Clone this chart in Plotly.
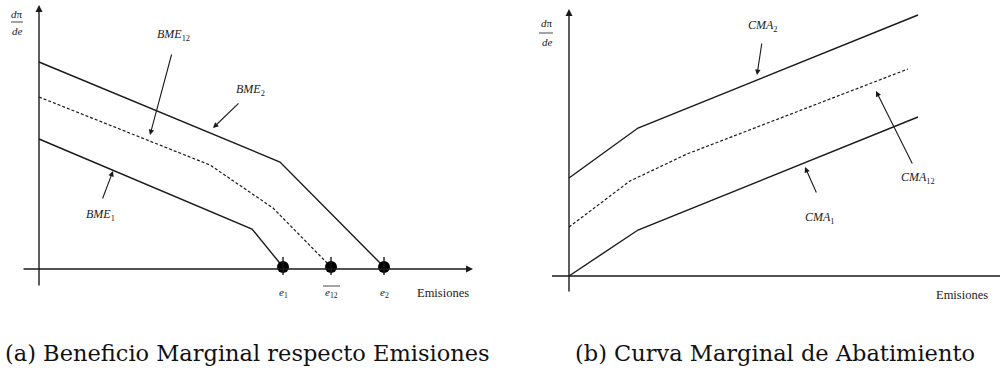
import plotly.graph_objects as go

# ---------------- data (abstract units) ----------------
# Left panel: Beneficio Marginal respecto Emisiones
bme2_x = [0, 24.1, 34.5]
bme2_y = [20.7, 10.7, 0.2]
bme12_x = [0, 17.1, 23.4, 29.2]
bme12_y = [17.2, 10.4, 6.1, 0.2]
bme1_x = [0, 21.3, 24.4]
bme1_y = [13.0, 4.0, 0.2]
e_points_x = [24.4, 29.2, 34.5]
e_points_y = [0.2, 0.2, 0.2]
e_labels = ["<i>e</i><sub>1</sub>", "<i>e</i><sub>12</sub>", "<i>e</i><sub>2</sub>"]

# Right panel: Curva Marginal de Abatimiento
cma2_x = [0, 6.9, 34.9]
cma2_y = [9.8, 14.8, 26.1]
cma12_x = [0, 6.1, 11.8, 33.9]
cma12_y = [4.9, 9.5, 12.2, 20.7]
cma1_x = [0, 6.9, 34.9]
cma1_y = [0, 4.6, 15.9]

captions = ["(a) Beneficio Marginal respecto Emisiones", "(b) Curva Marginal de Abatimiento"]

LINE = "#1a1a1a"
SERIF = "Liberation Serif"

fig = go.Figure()

# left curves
fig.add_trace(go.Scatter(x=bme2_x, y=bme2_y, mode="lines", line=dict(color=LINE, width=1.4), xaxis="x", yaxis="y"))
fig.add_trace(go.Scatter(x=bme12_x, y=bme12_y, mode="lines", line=dict(color=LINE, width=1.2, dash="3px,2px"), xaxis="x", yaxis="y"))
fig.add_trace(go.Scatter(x=bme1_x, y=bme1_y, mode="lines", line=dict(color=LINE, width=1.4), xaxis="x", yaxis="y"))
fig.add_trace(go.Scatter(x=e_points_x, y=e_points_y, mode="markers", marker=dict(color="black", size=12), xaxis="x", yaxis="y"))

# right curves
fig.add_trace(go.Scatter(x=cma2_x, y=cma2_y, mode="lines", line=dict(color=LINE, width=1.4), xaxis="x2", yaxis="y2"))
fig.add_trace(go.Scatter(x=cma12_x, y=cma12_y, mode="lines", line=dict(color=LINE, width=1.2, dash="3px,2px"), xaxis="x2", yaxis="y2"))
fig.add_trace(go.Scatter(x=cma1_x, y=cma1_y, mode="lines", line=dict(color=LINE, width=1.4), xaxis="x2", yaxis="y2"))

shapes = []
annotations = []

def arrow(xr, yr, x0, y0, x1, y1, width=1.3, size=1.0):
    annotations.append(dict(x=x1, y=y1, ax=x0, ay=y0, xref=xr, yref=yr, axref=xr, ayref=yr,
                            text="", showarrow=True, arrowhead=2, arrowsize=size, arrowwidth=width,
                            arrowcolor=LINE, standoff=0, startstandoff=0,
                            font=dict(family=SERIF, size=12)))

def label(xr, yr, x, y, text, size=12, xanchor="center"):
    annotations.append(dict(x=x, y=y, xref=xr, yref=yr, text=text, showarrow=False,
                            font=dict(family=SERIF, size=size, color="#1a1a1a"),
                            xanchor=xanchor, yanchor="middle"))

# left axes
arrow("x", "y", -1.7, 0, 43.4, 0, width=1.4)
arrow("x", "y", 0, -1.8, 0, 26.4, width=1.4)
# ticks through dots
for xv in e_points_x:
    shapes.append(dict(type="line", xref="x", yref="y", x0=xv, x1=xv, y0=-0.6, y1=1.2, line=dict(color=LINE, width=1.4)))
for xv, lab in zip(e_points_x, e_labels):
    label("x", "y", xv, -2.4, lab, size=11)
# overline for e12
shapes.append(dict(type="line", xref="x", yref="y", x0=e_points_x[1] - 0.8, x1=e_points_x[1] + 0.9,
                   y0=-1.7, y1=-1.7, line=dict(color=LINE, width=0.8)))
label("x", "y", 40.4, -2.4, "Emisiones", size=12.5)
# fraction left
label("x", "y", -2.2, 25.5, "<i>d</i>π", size=11)
shapes.append(dict(type="line", xref="x", yref="y", x0=-2.8, x1=-1.6, y0=24.7, y1=24.7, line=dict(color=LINE, width=0.8)))
label("x", "y", -2.2, 23.8, "<i>de</i>", size=11)
# labels & pointers left
label("x", "y", 13.4, 23.4, "<i>BME</i><sub>12</sub>")
arrow("x", "y", 13.3, 21.6, 11.1, 13.4, width=1.1)
label("x", "y", 21.1, 17.9, "<i>BME</i><sub>2</sub>")
arrow("x", "y", 20.1, 16.7, 17.4, 14.1, width=1.1)
label("x", "y", 6.1, 5.4, "<i>BME</i><sub>1</sub>")
arrow("x", "y", 6.3, 6.9, 7.4, 9.8, width=1.1)

# right axes
shapes.append(dict(type="line", xref="x2", yref="y2", x0=-1.7, x1=43.1, y0=0, y1=0, line=dict(color=LINE, width=1.4)))
arrow("x2", "y2", 0, -1.7, 0, 26.7, width=1.4)
label("x2", "y2", 39.3, -1.9, "Emisiones", size=12.5)
label("x2", "y2", -2.2, 25.3, "<i>d</i>π", size=11)
shapes.append(dict(type="line", xref="x2", yref="y2", x0=-3.0, x1=-1.6, y0=24.3, y1=24.3, line=dict(color=LINE, width=0.8)))
label("x2", "y2", -2.2, 23.4, "<i>de</i>", size=11)
label("x2", "y2", 19.4, 25.0, "<i>CMA</i><sub>2</sub>")
arrow("x2", "y2", 19.3, 23.4, 18.8, 20.1, width=1.1)
label("x2", "y2", 34.9, 9.8, "<i>CMA</i><sub>12</sub>")
arrow("x2", "y2", 34.4, 11.1, 30.7, 18.5, width=1.1)
label("x2", "y2", 25.1, 5.8, "<i>CMA</i><sub>1</sub>")
arrow("x2", "y2", 24.8, 8.2, 23.6, 10.9, width=1.1)

# captions
annotations.append(dict(x=0.247, y=0.048, xref="paper", yref="paper", text=captions[0], showarrow=False,
                        font=dict(family="DejaVu Serif", size=22.5, color="#111"), xanchor="center", yanchor="middle"))
annotations.append(dict(x=0.775, y=0.048, xref="paper", yref="paper", text=captions[1], showarrow=False,
                        font=dict(family="DejaVu Serif", size=22.5, color="#111"), xanchor="center", yanchor="middle"))

ax_common = dict(visible=False, showgrid=False, zeroline=False, fixedrange=True)
fig.update_layout(
    width=1000, height=371,
    margin=dict(l=0, r=0, t=0, b=0),
    paper_bgcolor="white", plot_bgcolor="white",
    showlegend=False,
    font=dict(family=SERIF, size=12, color="#1a1a1a"),
    xaxis=dict(domain=[0, 0.5], range=[-3.9, 46.1], **ax_common),
    yaxis=dict(domain=[0, 1], range=[-10.2, 26.9], **ax_common),
    xaxis2=dict(domain=[0.5, 1], range=[-6.9, 43.1], anchor="y2", **ax_common),
    yaxis2=dict(domain=[0, 1], range=[-9.5, 27.6], anchor="x2", **ax_common),
    shapes=shapes,
    annotations=annotations,
)

fig.write_html("out.html")
